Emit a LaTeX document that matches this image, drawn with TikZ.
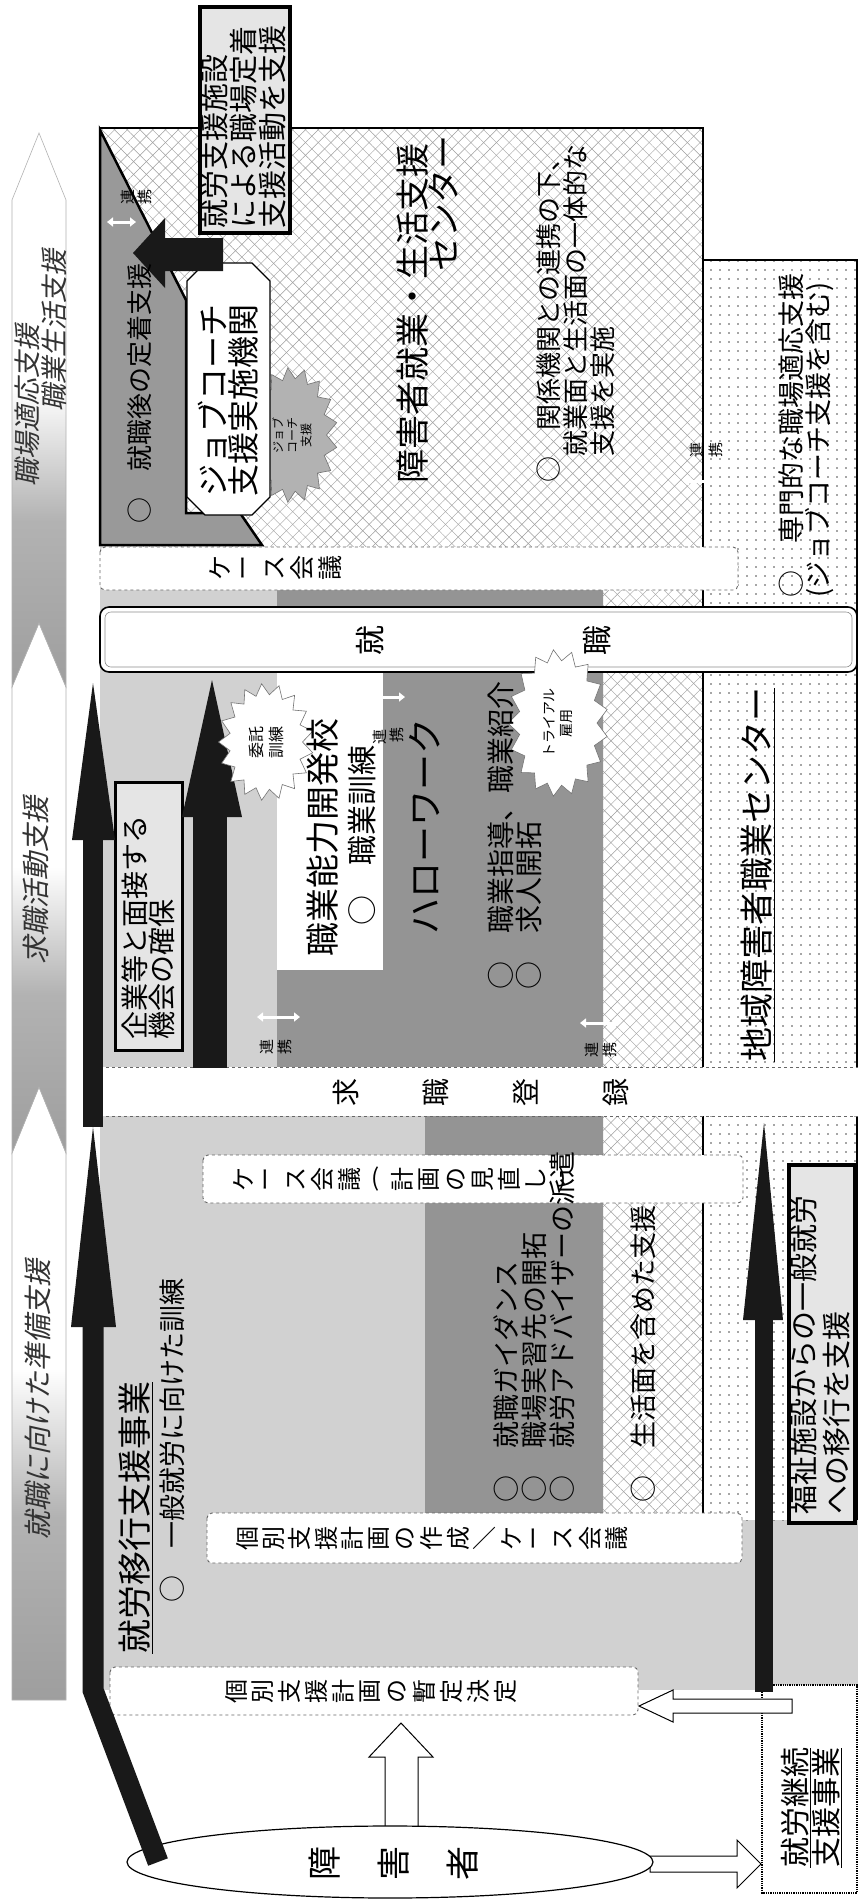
\documentclass[tikz,border=0pt]{standalone}
\usepackage{fontspec}
\setmainfont{Noto Sans CJK JP}
\newfontfamily\bandfont[FakeSlant=0.22]{Noto Sans CJK JP}
\usetikzlibrary{patterns.meta,shapes.symbols,arrows.meta}
\newcommand{\myLP}{(}
\newcommand{\myRP}{)}
\pgfdeclareverticalshading{bandsh}{100bp}{color(0bp)=(black!38); color(25bp)=(black!38); color(40bp)=(black!30); color(52bp)=(white); color(100bp)=(white)}
\tikzset{
 fs/.style 2 args={font={\fontsize{#1}{#2}\selectfont}},
 vt/.style={rotate=90, inner sep=0pt, align=left, anchor=north west},
 vl/.style={rotate=90, inner sep=0pt, anchor=west},
 ch/.style={rotate=90, inner sep=0pt},
 bandseg/.style={shade, shading=bandsh, draw=black!30, line width=0.6pt},
 lattice/.style={fill=white,
   postaction={pattern={Lines[angle=45,distance=9pt,line width=0.45pt]}, pattern color=black!38},
   postaction={pattern={Lines[angle=-45,distance=9pt,line width=0.45pt]}, pattern color=black!38}},
 dotfill/.style={fill=white, postaction={pattern={Dots[distance=9pt,radius=0.8pt]}, pattern color=black!70}},
 dashbox/.style={draw=black!60, dashed, line width=0.9pt, fill=white, rounded corners=5pt},
 thickbox/.style={draw=black, fill=black!10},
 renkei/.style={white, line width=3pt, {Triangle[width=9pt,length=6pt]}-{Triangle[width=9pt,length=6pt]}},
 rk/.style={rotate=90, inner sep=0pt, fs={15}{15}},
 burst/.style={starburst, starburst points=17, starburst point height=11pt, random starburst=0, inner sep=0pt, rotate=90, align=center, line width=0.6pt},
 whitearrow/.style={draw=black, fill=white, line width=1pt, line join=miter},
 blackarrow/.style={fill=black!90},
}
\begin{document}
\begin{tikzpicture}[x=1pt,y=-1pt]
\useasboundingbox (0,0) rectangle (859,1899);
\fill[white] (0,0) rectangle (859,1899);

% progress band
\path[bandseg] (12,1700) -- (66,1700) -- (66,1153) -- (39,1087) -- (12,1153) -- cycle;
\path[bandseg] (12,1153) -- (39,1087) -- (66,1153) -- (66,687) -- (39,623) -- (12,687) -- cycle;
\path[bandseg] (12,687) -- (39,623) -- (66,687) -- (66,200) -- (39,133) -- (12,200) -- cycle;
\node[vl, fs={28}{28}, text=black!80] (b1) at (38,1540) {\bandfont 就職に向けた準備支援};
\node[vl, fs={28}{28}, text=black!80] (b2) at (36,965) {\bandfont 求職活動支援};
\node[vl, fs={27}{27}, text=black!80] (b3) at (27,487) {\bandfont 職場適応支援};
\node[vl, fs={27}{27}, text=black!80] (b4) at (54,412) {\bandfont 職業生活支援};

% base regions
\fill[black!18] (100,547) rectangle (858,1690);
\path[lattice] (100,128) -- (703,128) -- (703,1513) -- (603,1513) -- (603,547) -- (100,547) -- cycle;
\path[dotfill] (703,260) rectangle (857,1520);
\fill[black!42] (277,570) -- (603,570) -- (603,1513) -- (425,1513) -- (425,1092) -- (277,1092) -- cycle;
\draw[line width=1.6pt] (100,128) -- (703,128) -- (703,1513);
\draw[line width=1.6pt] (703,260) -- (857,260) -- (857,1520);

% job coach starburst (behind the octagon)
\node[burst, minimum width=135pt, minimum height=91pt, fill=black!30, draw=black!55, fs={12}{14}] (s1) at (292,435) {ジョブ\\コーチ\\支援};

% after-employment polygon and job coach octagon
\draw[fill=black!40, line width=2.5pt] (100,130) -- (186,300) -- (186,513) -- (240,513) -- (262,545) -- (100,545) -- cycle;
\draw[fill=white, line width=1.2pt] (205,263) -- (252,263) -- (270,281) -- (270,497) -- (252,515) -- (205,515) -- (187,497) -- (187,281) -- cycle;
\fill[white] (277,672) rectangle (383,970);

% bands across
\draw[dashbox] (100,547) rectangle (738,590);
\draw[fill=white, line width=1.6pt, rounded corners=9pt] (100,607) rectangle (857,672);
\draw[black!45, line width=0.6pt, rounded corners=6pt] (105,612) rectangle (852,667);
\fill[white] (100,1067) rectangle (858,1116);
\draw[dashed, black!60, line width=0.9pt] (100,1067) -- (858,1067) (100,1116) -- (858,1116);
\draw[dashbox] (203,1155) rectangle (743,1203);
\draw[dashbox] (207,1513) rectangle (742,1563);
\draw[dashbox] (110,1667) rectangle (638,1715);

% framed boxes
\draw[thickbox, line width=4pt] (200,7) rectangle (290,233);
\draw[thickbox, line width=3pt] (115,782) rectangle (182,1050);
\draw[thickbox, line width=4pt] (789,1165) rectangle (855,1523);
\draw[densely dotted, line width=1.3pt, fill=white] (762,1685) rectangle (857,1893);

% black arrows
\path[blackarrow] (223,238) -- (223,271) -- (165,271) -- (165,288) -- (133,253) -- (165,218) -- (165,238) -- cycle;
\path[blackarrow] (83,1127) rectangle (103,840);
\path[blackarrow] (72,840) -- (115,840) -- (93,683) -- cycle;
\path[blackarrow] (193,1068) rectangle (227,817);
\path[blackarrow] (182,817) -- (242,817) -- (212,680) -- cycle;
\path[blackarrow] (755,1692) rectangle (773,1320);
\path[blackarrow] (743,1320) -- (783,1320) -- (764,1123) -- cycle;

% band characters
\foreach \c [count=\i from 0] in {ケ,ー,ス,会,議}
  \node[ch, fs={25}{25}] at ({220+27.5*\i},568) {\c};
\node[ch, fs={30}{30}] (sh1) at (370,640) {就};
\node[ch, fs={30}{30}] (sh2) at (597,640) {職};
\foreach \c [count=\i from 0] in {求,職,登,録}
  \node[ch, fs={28}{28}] at ({346+90*\i},1092) {\c};
\foreach \c/\r [count=\i from 0] in {ケ/90,ー/90,ス/90,会/90,議/90,\myLP/0,計/90,画/90,の/90,見/90,直/90,し/90,\myRP/0}
  \node[inner sep=0pt, rotate=\r, fs={24}{24}] at ({243+26.6*\i},1179) {\c};
\foreach \c/\r [count=\i from 0] in {個/90,別/90,支/90,援/90,計/90,画/90,の/90,作/90,成/90,／/0,ケ/90,ー/90,ス/90,会/90,議/90}
  \node[inner sep=0pt, rotate=\r, fs={24}{24}] at ({247+26.4*\i},1538) {\c};
\foreach \c [count=\i from 0] in {個,別,支,援,計,画,の,暫,定,決,定}
  \node[ch, fs={24}{24}] at ({236+26.9*\i},1691) {\c};

% starbursts on the job-seeking side
\node[burst, minimum width=117pt, minimum height=95pt, fill=white, draw=black!55, fs={16}{20}] (s2) at (266,742) {委託\\訓練};
\node[burst, minimum width=147pt, minimum height=100pt, fill=white, draw=black!55, fs={14}{17}] (s3) at (558,723) {トライアル\\雇用};

% texts
\node[vt, fs={29}{29}] (t1) at (201,229) {就労支援施設\\による職場定着\\支援活動を支援};
\node[vl, fs={26}{26}] (t2) at (140,524) {○　就職後の定着支援};
\node[vt, fs={32}{30}] (t3) at (198,497) {ジョブコーチ\\支援実施機関};
\node[vl, fs={34}{34}] (t4) at (413,484) {障害者就業・生活支援};
\node[vl, fs={34}{34}] (t5) at (443,272) {センター};
\node[vt, fs={26}{27}] (t6) at (536,483) {○　関係機関との連携の下、\\　就業面と生活面の一体的な\\　支援を実施};
\node[vt, fs={27}{27}] (t7) at (779,598) {○　専門的な職場適応支援\\(ジョブコーチ支援を含む)};
\node[vt, fs={28}{27}] (t8) at (122,1040) {企業等と面接する\\機会の確保};
\node[vl, fs={34}{34}] (t9) at (323,957) {職業能力開発校};
\node[vl, fs={30}{30}] (t10) at (362,926) {○　職業訓練};
\node[vl, fs={36}{36}] (t11) at (425,935) {ハローワーク};
\node[vt, fs={28}{28}] (t12) at (488,990) {○　職業指導、職業紹介\\○　求人開拓};
\node[vl, fs={34}{34}] (t13) at (758,1062) {\underline{地域障害者職業センター}};
\node[vt, fs={27}{28}] (t14) at (493,1503) {○　就職ガイダンス\\○　職場実習先の開拓\\○　就労アドバイザーの派遣};
\node[vl, fs={27}{27}] (t15) at (643,1503) {○　生活面を含めた支援};
\node[vl, fs={34}{34}] (t16) at (136,1654) {\underline{就労移行支援事業}};
\node[vl, fs={27}{27}] (t17) at (172,1603) {○　一般就労に向けた訓練};
\node[vt, fs={29}{33}] (t18) at (790,1515) {福祉施設からの一般就労\\への移行を支援};
\node[vt, fs={30}{29}] (t19) at (781,1868) {\underline{就労継続}\\\underline{支援事業}};

% cooperation marks
\draw[renkei] (107,222) -- (136,222);
\node[rk] (r1a) at (128,197) {連}; \node[rk] (r1b) at (145,197) {携};
\draw[renkei] (362,697) -- (405,697);
\node[rk] (r2a) at (380,737) {連}; \node[rk] (r2b) at (397,735) {携};
\draw[renkei] (257,1017) -- (300,1017);
\node[rk] (r3a) at (267,1047) {連}; \node[rk] (r3b) at (285,1047) {携};
\draw[renkei] (580,1023) -- (620,1023);
\node[rk] (r4a) at (592,1050) {連}; \node[rk] (r4b) at (610,1050) {携};
\draw[renkei] (683,481) -- (721,481);
\node[rk] (r5a) at (697,450) {連}; \node[rk] (r5b) at (716,450) {携};

% white arrows and ellipse
\draw[whitearrow] (792,1699) -- (673,1699) -- (673,1690) -- (639,1706) -- (673,1722) -- (673,1713) -- (792,1713) -- cycle;
\draw[whitearrow] (650,1856) -- (737,1856) -- (737,1840) -- (761,1864) -- (737,1888) -- (737,1872) -- (650,1872) -- cycle;
\draw[whitearrow] (385,1835) -- (385,1757) -- (369,1757) -- (401,1723) -- (433,1757) -- (418,1757) -- (418,1835) -- cycle;
\draw[fill=white, line width=1.2pt] (390,1862) ellipse [x radius=263pt, y radius=36pt];
\node[ch, fs={34}{34}] (p1) at (325,1863) {障};
\node[ch, fs={34}{34}] (p2) at (394,1863) {害};
\node[ch, fs={34}{34}] (p3) at (463,1863) {者};

% arrow from person
\draw[black!90, line width=21pt] (158,1862) -- (93,1690) -- (93,1320);
\path[blackarrow] (71,1327) -- (116,1327) -- (93,1127) -- cycle;
\end{tikzpicture}
\end{document}
